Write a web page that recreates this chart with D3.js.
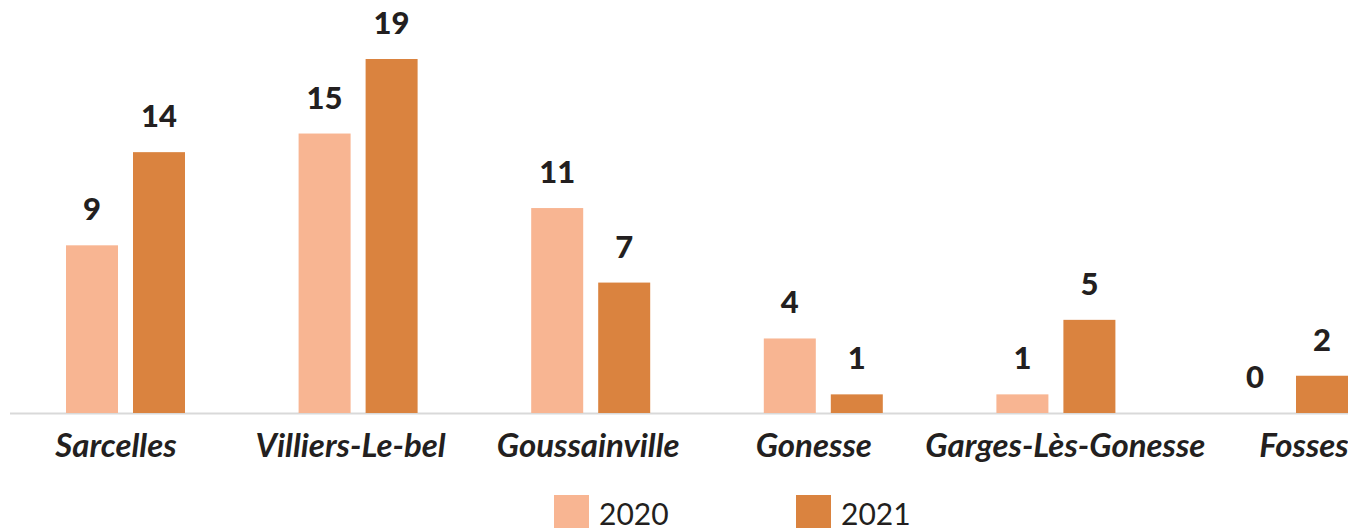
<!DOCTYPE html>
<html><head><meta charset="utf-8">
<script src="https://cdn.jsdelivr.net/npm/d3@7"></script>
<style>html,body{margin:0;padding:0;background:#fff;}svg{display:block;}</style>
</head><body><svg id="c" width="1348" height="528"></svg>
<script>
const categories = ["Sarcelles","Villiers-Le-bel","Goussainville","Gonesse","Garges-Lès-Gonesse","Fosses"];
const seriesNames = ["2020","2021"];
const values2020 = [9,15,11,4,1,0];
const values2021 = [14,19,7,1,5,2];
const colors = ["#F8B592","#DA833F"];
// layout: horizontal nudges of category labels (px)
const labelShift = [-9, -7, -2, -9, 10, 16];

const svg = d3.select("#c");
const baseY = 413;
const x0 = d3.scaleBand().domain(categories).range([8.7, 8.7+6*232.6]).paddingInner(0).paddingOuter(0);
const x1 = d3.scaleBand().domain(seriesNames).range([57.3, 176.3]).paddingInner(15/67).paddingOuter(0);
const y = d3.scaleLinear().domain([0,19]).range([baseY, 59]);

const data = categories.map((c,i)=>({cat:c, vals:[values2020[i], values2021[i]]}));

// axis line
svg.append("line").attr("x1",10).attr("x2",1348).attr("y1",baseY+0.5).attr("y2",baseY+0.5)
  .attr("stroke","#d9d9d9").attr("stroke-width",2);

const g = svg.selectAll("g.grp").data(data).join("g").attr("class","grp")
  .attr("transform",d=>`translate(${x0(d.cat)},0)`);

g.selectAll("rect").data(d=>d.vals.map((v,j)=>({s:seriesNames[j],v,j}))).join("rect")
  .attr("x",d=>x1(d.s)).attr("width",x1.bandwidth())
  .attr("y",d=>y(d.v)).attr("height",d=>baseY-y(d.v))
  .attr("fill",d=>colors[d.j]);

g.selectAll("text.val").data(d=>d.vals.map((v,j)=>({s:seriesNames[j],v,j}))).join("text")
  .attr("class","val")
  .attr("x",d=>x1(d.s)+x1.bandwidth()/2).attr("y",d=>y(d.v)-25)
  .attr("text-anchor","middle")
  .attr("font-family","Lato").attr("font-weight",900).attr("font-size",31)
  .attr("fill","#231f20").text(d=>d.v);

// category labels
svg.selectAll("text.cat").data(categories).join("text").attr("class","cat")
  .attr("x",(d,i)=>x0(d)+x0.bandwidth()/2+labelShift[i]).attr("y",457)
  .attr("text-anchor","middle")
  .attr("font-family","Lato").attr("font-weight","bold").attr("font-style","italic").attr("font-size",33)
  .attr("fill","#231f20").text(d=>d);

// legend
const legX = [554, 796];
const leg = svg.selectAll("g.leg").data(seriesNames).join("g").attr("class","leg")
  .attr("transform",(d,i)=>`translate(${legX[i]},495)`);
leg.append("rect").attr("width",35).attr("height",35).attr("fill",(d,i)=>colors[i]);
leg.append("text").attr("x",45).attr("y",30)
  .attr("font-family","Lato").attr("font-size",30).attr("fill","#231f20").text(d=>d);
</script></body></html>
